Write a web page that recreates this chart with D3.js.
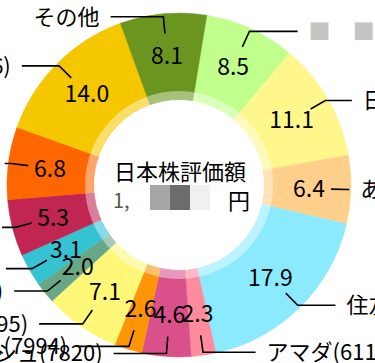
<!DOCTYPE html>
<html>
<head>
<meta charset="utf-8">
<script src="https://cdn.jsdelivr.net/npm/d3@7"></script>
<style>
  body { margin: 0; background: #fff; }
  svg { display: block; font-family: "Noto Sans CJK JP", sans-serif; }
</style>
</head>
<body>
<div id="donut"></div>
<script>
// holdings, clockwise from the slice right of "その他"
var names = ["■\u3000■(2802)", "日立製作所(6501)", "あおぞら銀行(8304)", "住友商事(8053)",
  "アマダ(6113)", "ニホンフラッシュ(7820)", "マックス(7994)", "くら寿司(2695)",
  "日本たばこ産業(2914)", "三菱商事(8058)", "KDDI(9433)", "トヨタ自動車(7203)",
  "三井住友FG(8316)", "その他"];
var values = [8.5, 11.1, 6.4, 17.9, 2.3, 4.6, 2.6, 7.1, 2.0, 3.1, 5.3, 6.8, 14.0, 8.1];
var colors = ["#c0ff8c", "#fff78c", "#ffd08c", "#8ceaff", "#ff8c9d",
  "#d9508a", "#fe9507", "#fef778", "#6aa786", "#35c2d1",
  "#c12552", "#ff6600", "#f5c700", "#6a961f"];
var centerTitle = "日本株評価額";
var centerUnit = "円";

// margins and sizes
var width = 375, height = 363;
var cx = 179, cy = 185;
var outerR = 172, holeR = 85.5, ringR = 94;
var valueR = 130, line0R = 152, line1R = 169, line2Len = 53;

var svg = d3.select("#donut").append("svg")
  .attr("width", width)
  .attr("height", height);

var g = svg.append("g")
  .attr("transform", "translate(" + cx + "," + cy + ")");

var start = 9.3 * Math.PI / 180;
var pie = d3.pie()
  .sort(null)
  .value(function(d) { return d; })
  .startAngle(start)
  .endAngle(start + 2 * Math.PI);

var arcs = pie(values);

var arc = d3.arc()
  .innerRadius(holeR)
  .outerRadius(outerR);

// slices
g.selectAll("path.slice").data(arcs)
  .enter().append("path")
  .attr("class", "slice")
  .attr("d", arc)
  .attr("fill", function(d, i) { return colors[i]; })
  .attr("stroke", function(d, i) { return colors[i]; })
  .attr("stroke-width", 0.5);

// translucent white ring round the hole
g.append("path")
  .attr("d", d3.arc().innerRadius(holeR).outerRadius(ringR)
    .startAngle(0).endAngle(2 * Math.PI)())
  .attr("fill", "#fff")
  .attr("fill-opacity", 105 / 255);

function polar(a, r) {
  return [r * Math.sin(a), -r * Math.cos(a)];
}

// leader lines and name labels
arcs.forEach(function(d, i) {
  var mid = (d.startAngle + d.endAngle) / 2;
  var left = Math.sin(mid) < 0;
  var p0 = polar(mid, line0R);
  var p1 = polar(mid, line1R);
  var len = line2Len * Math.abs(Math.cos(mid));
  var p2 = [p1[0] + (left ? -len : len), p1[1]];

  g.append("polyline")
    .attr("points", [p0, p1, p2].map(function(p) { return p.join(","); }).join(" "))
    .attr("fill", "none")
    .attr("stroke", "#000")
    .attr("stroke-width", 1.6);

  var t = g.append("text")
    .attr("x", p2[0] + (left ? -11 : 11))
    .attr("y", p2[1])
    .attr("dy", "0.36em")
    .attr("text-anchor", left ? "end" : "start")
    .style("font-size", "22px")
    .attr("fill", "#000");

  // redacted characters shown as grey blocks
  names[i].split(/(■+)/).forEach(function(part) {
    if (!part) return;
    t.append("tspan")
      .text(part)
      .attr("fill", part.charAt(0) == "■" ? "#c4c4c4" : "#000");
  });
});

// value labels inside the slices
g.selectAll("text.value").data(arcs)
  .enter().append("text")
  .attr("class", "value")
  .attr("x", function(d) { return polar((d.startAngle + d.endAngle) / 2, valueR)[0]; })
  .attr("y", function(d) { return polar((d.startAngle + d.endAngle) / 2, valueR)[1]; })
  .attr("dy", "0.36em")
  .attr("text-anchor", "middle")
  .style("font-size", "23px")
  .attr("fill", "#000")
  .text(function(d) { return d3.format(".1f")(d.value); });

// centre text
g.append("text")
  .attr("x", 1)
  .attr("y", -13)
  .attr("dy", "0.36em")
  .attr("text-anchor", "middle")
  .style("font-size", "22px")
  .text(centerTitle);

g.append("text")
  .attr("x", -66)
  .attr("y", 16)
  .attr("dy", "0.36em")
  .style("font-size", "20px")
  .attr("fill", "#555")
  .text("1,");

// blurred amount
var blur = ["#a6a6a6", "#6c6c6c", "#f0f0f0"];
g.selectAll("rect.blur").data(blur)
  .enter().append("rect")
  .attr("class", "blur")
  .attr("x", function(d, i) { return -29 + i * 20; })
  .attr("y", 0)
  .attr("width", 20)
  .attr("height", 25)
  .attr("fill", function(d) { return d; });

g.append("text")
  .attr("x", 49)
  .attr("y", 16)
  .attr("dy", "0.36em")
  .style("font-size", "22px")
  .text(centerUnit);
</script>
</body>
</html>
